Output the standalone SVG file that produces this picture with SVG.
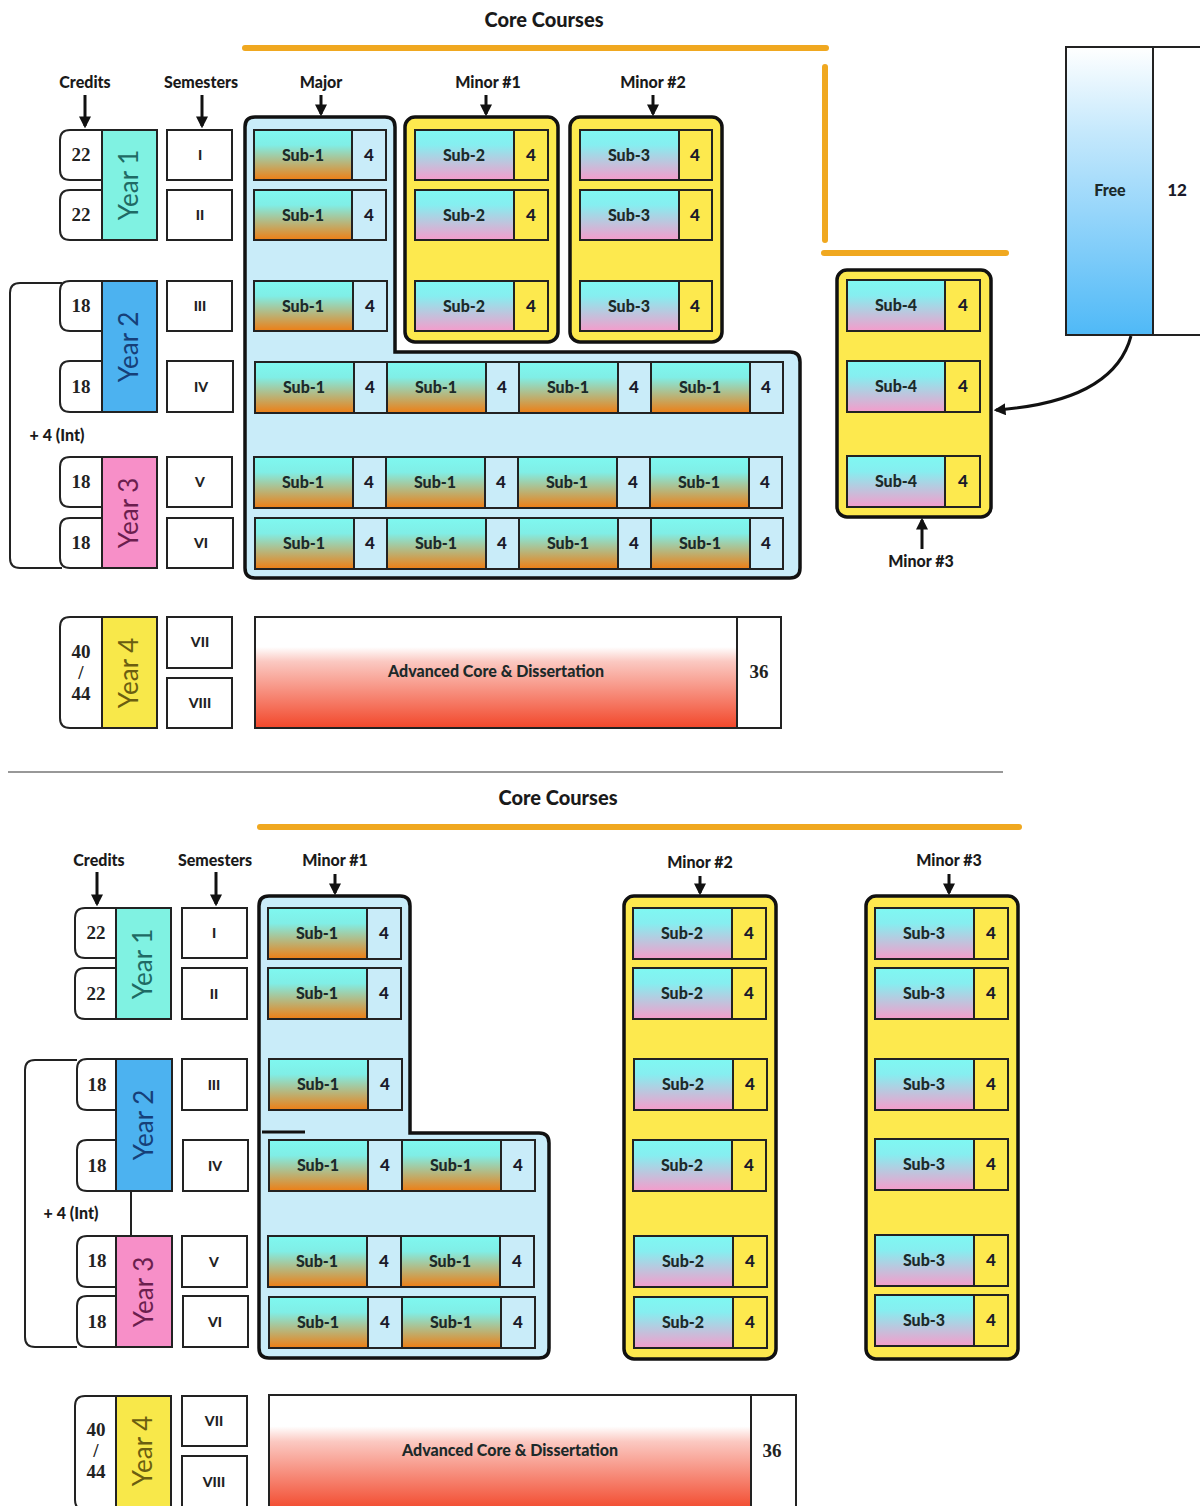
<svg xmlns="http://www.w3.org/2000/svg" width="1200" height="1506" viewBox="0 0 1200 1506">
<defs>
<linearGradient id="gS1" x1="0" y1="0" x2="0" y2="1"><stop offset="0" stop-color="#7ff8f0"/><stop offset="0.3" stop-color="#80eee6"/><stop offset="1" stop-color="#ee7e14"/></linearGradient>
<linearGradient id="gS2" x1="0" y1="0" x2="0" y2="1"><stop offset="0" stop-color="#7ff8f2"/><stop offset="0.3" stop-color="#86eef0"/><stop offset="1" stop-color="#f59ccb"/></linearGradient>
<linearGradient id="gFree" x1="0" y1="0" x2="0" y2="1"><stop offset="0" stop-color="#ffffff"/><stop offset="0.3" stop-color="#c4e8fc"/><stop offset="1" stop-color="#4fb9f7"/></linearGradient>
<linearGradient id="gAdv" x1="0" y1="0" x2="0" y2="1"><stop offset="0" stop-color="#ffffff"/><stop offset="0.27" stop-color="#ffffff"/><stop offset="0.4" stop-color="#fbc9c2"/><stop offset="1" stop-color="#f2472a"/></linearGradient>
<marker id="ah" viewBox="0 0 10 10" refX="8" refY="5" markerWidth="4" markerHeight="4" orient="auto-start-reverse"><path d="M0,0 L10,5 L0,10 Z" fill="#111"/></marker>
</defs>
<style>
.lbl{font-family:Lato,"Liberation Sans",sans-serif;font-weight:900;font-size:16px;fill:#1a1a1a;text-anchor:middle}
.ttl{font-family:Lato,"Liberation Sans",sans-serif;font-weight:900;font-size:20px;fill:#1a1a1a;text-anchor:middle}
.num{font-family:"Liberation Serif",serif;font-weight:bold;font-size:19px;fill:#222;text-anchor:middle}
.sem{font-family:Lato,"Liberation Sans",sans-serif;font-weight:900;font-size:14px;fill:#222;text-anchor:middle}
.sub{font-family:Lato,"Liberation Sans",sans-serif;font-weight:900;font-size:16px;fill:#1c2a2a;text-anchor:middle}
.cr{font-family:Lato,"Liberation Sans",sans-serif;font-weight:900;font-size:17px;fill:#1a1a2a;text-anchor:middle}
.yr{font-family:Lato,"Liberation Sans",sans-serif;font-size:26px;text-anchor:middle}
.box{stroke:#222;stroke-width:2}
.s1{fill:url(#gS1)}
.s2{fill:url(#gS2)}
.nb{fill:#c9ecf9}
.ny{fill:#fde94e}
.cont{stroke:#111;stroke-width:3.5}
.blue{fill:#c9ecf9}
.yel{fill:#fde94e}
.w{fill:#fff}
.orange{stroke:#f0a820;stroke-width:6;stroke-linecap:round;fill:none}
.arr{stroke:#111;stroke-width:3;fill:none;marker-end:url(#ah)}
.thin{stroke:#222;stroke-width:2;fill:none}
</style>
<rect width="1200" height="1506" fill="#ffffff"/>

<!-- ================= TOP SECTION ================= -->
<g id="top-title">
<text class="ttl" x="544" y="27">Core Courses</text>
<line class="orange" x1="245" y1="48" x2="826" y2="48"/>
<line class="orange" x1="825" y1="67" x2="825" y2="240"/>
<line class="orange" x1="824" y1="253" x2="1006" y2="253"/>
</g>
<g id="top-labels">
<text class="lbl" x="85" y="88">Credits</text>
<text class="lbl" x="201" y="88">Semesters</text>
<text class="lbl" x="321" y="88">Major</text>
<text class="lbl" x="488" y="88">Minor #1</text>
<text class="lbl" x="653" y="88">Minor #2</text>
<text class="lbl" x="921" y="567">Minor #3</text>
</g>

<g id="top-credits">
<path class="box w" d="M103,130 H70 Q60,130 60,140 V170 Q60,180 70,180 H103"/>
<text class="num" x="81" y="161">22</text>
<path class="box w" d="M103,190 H70 Q60,190 60,200 V230 Q60,240 70,240 H103"/>
<text class="num" x="81" y="221">22</text>
<path class="box w" d="M103,281 H70 Q60,281 60,291 V321 Q60,331 70,331 H103"/>
<text class="num" x="81" y="312">18</text>
<path class="box w" d="M103,361 H70 Q60,361 60,371 V402 Q60,412 70,412 H103"/>
<text class="num" x="81" y="393">18</text>
<path class="box w" d="M103,457 H70 Q60,457 60,467 V497 Q60,507 70,507 H103"/>
<text class="num" x="81" y="488">18</text>
<path class="box w" d="M103,518 H70 Q60,518 60,528 V558 Q60,568 70,568 H103"/>
<text class="num" x="81" y="549">18</text>
<path class="box w" d="M103,617 H70 Q60,617 60,627 V718 Q60,728 70,728 H103"/>
<text class="num" x="81" y="658">40</text>
<text class="num" x="81" y="679">/</text>
<text class="num" x="81" y="700">44</text>
</g>
<g id="top-bracket">
<path class="thin" d="M62,283 H20 Q10,283 10,293 V558 Q10,568 20,568 H62"/>
<text class="lbl" x="57" y="441">+ 4 (Int)</text>
</g>
<g id="top-years">
<rect class="box" x="102" y="130" width="55" height="110" fill="#80f2e2"/>
<text class="yr" transform="translate(138,185) rotate(-90)" fill="#1f6a64">Year 1</text>
<rect class="box" x="102" y="281" width="55" height="131" fill="#4cb2f0"/>
<text class="yr" transform="translate(138,347) rotate(-90)" fill="#163f78">Year 2</text>
<rect class="box" x="102" y="457" width="55" height="111" fill="#f78fc8"/>
<text class="yr" transform="translate(138,513) rotate(-90)" fill="#6b1e4e">Year 3</text>
<rect class="box" x="102" y="617" width="55" height="111" fill="#f8e84a"/>
<text class="yr" transform="translate(138,673) rotate(-90)" fill="#6b5e10">Year 4</text>
</g>
<g id="top-semesters">
<rect class="box w" x="167" y="130" width="65" height="50"/><text class="sem" x="200" y="160">I</text>
<rect class="box w" x="167" y="190" width="65" height="50"/><text class="sem" x="200" y="220">II</text>
<rect class="box w" x="167" y="281" width="65" height="50"/><text class="sem" x="200" y="311">III</text>
<rect class="box w" x="167" y="361" width="66" height="51"/><text class="sem" x="201" y="392">IV</text>
<rect class="box w" x="167" y="457" width="65" height="50"/><text class="sem" x="200" y="487">V</text>
<rect class="box w" x="167" y="518" width="66" height="50"/><text class="sem" x="201" y="548">VI</text>
<rect class="box w" x="167" y="617" width="65" height="51"/><text class="sem" x="200" y="647">VII</text>
<rect class="box w" x="167" y="678" width="65" height="50"/><text class="sem" x="200" y="708">VIII</text>
</g>

<g id="top-major">
<path class="cont blue" d="M255,117 H385 Q395,117 395,127 V352 H790 Q800,352 800,362 V568 Q800,578 790,578 H255 Q245,578 245,568 V127 Q245,117 255,117 Z"/>
<rect class="box s1" x="254" y="130" width="98" height="50"/><rect class="box nb" x="352" y="130" width="34" height="50"/>
<text class="sub" x="303" y="161">Sub-1</text><text class="cr" x="369" y="161">4</text>
<rect class="box s1" x="254" y="190" width="98" height="50"/><rect class="box nb" x="352" y="190" width="34" height="50"/>
<text class="sub" x="303" y="221">Sub-1</text><text class="cr" x="369" y="221">4</text>
<rect class="box s1" x="254" y="281" width="99" height="50"/><rect class="box nb" x="353" y="281" width="34" height="50"/>
<text class="sub" x="303" y="312">Sub-1</text><text class="cr" x="370" y="312">4</text>
<rect class="box s1" x="255" y="362" width="99" height="51"/><rect class="box nb" x="354" y="362" width="33" height="51"/>
<rect class="box s1" x="387" y="362" width="99" height="51"/><rect class="box nb" x="486" y="362" width="33" height="51"/>
<rect class="box s1" x="519" y="362" width="99" height="51"/><rect class="box nb" x="618" y="362" width="33" height="51"/>
<rect class="box s1" x="651" y="362" width="99" height="51"/><rect class="box nb" x="750" y="362" width="33" height="51"/>
<text class="sub" x="304" y="393">Sub-1</text><text class="cr" x="370" y="393">4</text>
<text class="sub" x="436" y="393">Sub-1</text><text class="cr" x="502" y="393">4</text>
<text class="sub" x="568" y="393">Sub-1</text><text class="cr" x="634" y="393">4</text>
<text class="sub" x="700" y="393">Sub-1</text><text class="cr" x="766" y="393">4</text>
<rect class="box s1" x="254" y="457" width="99" height="51"/><rect class="box nb" x="353" y="457" width="33" height="51"/>
<rect class="box s1" x="386" y="457" width="99" height="51"/><rect class="box nb" x="485" y="457" width="33" height="51"/>
<rect class="box s1" x="518" y="457" width="99" height="51"/><rect class="box nb" x="617" y="457" width="33" height="51"/>
<rect class="box s1" x="650" y="457" width="99" height="51"/><rect class="box nb" x="749" y="457" width="33" height="51"/>
<text class="sub" x="303" y="488">Sub-1</text><text class="cr" x="369" y="488">4</text>
<text class="sub" x="435" y="488">Sub-1</text><text class="cr" x="501" y="488">4</text>
<text class="sub" x="567" y="488">Sub-1</text><text class="cr" x="633" y="488">4</text>
<text class="sub" x="699" y="488">Sub-1</text><text class="cr" x="765" y="488">4</text>
<rect class="box s1" x="255" y="518" width="99" height="51"/><rect class="box nb" x="354" y="518" width="33" height="51"/>
<rect class="box s1" x="387" y="518" width="99" height="51"/><rect class="box nb" x="486" y="518" width="33" height="51"/>
<rect class="box s1" x="519" y="518" width="99" height="51"/><rect class="box nb" x="618" y="518" width="33" height="51"/>
<rect class="box s1" x="651" y="518" width="99" height="51"/><rect class="box nb" x="750" y="518" width="33" height="51"/>
<text class="sub" x="304" y="549">Sub-1</text><text class="cr" x="370" y="549">4</text>
<text class="sub" x="436" y="549">Sub-1</text><text class="cr" x="502" y="549">4</text>
<text class="sub" x="568" y="549">Sub-1</text><text class="cr" x="634" y="549">4</text>
<text class="sub" x="700" y="549">Sub-1</text><text class="cr" x="766" y="549">4</text>
</g>

<g id="top-minor1">
<rect class="cont yel" x="405" y="117" width="153" height="225" rx="10"/>
<rect class="box s2" x="415" y="130" width="99" height="50"/><rect class="box ny" x="514" y="130" width="34" height="50"/>
<text class="sub" x="464" y="161">Sub-2</text><text class="cr" x="531" y="161">4</text>
<rect class="box s2" x="415" y="190" width="99" height="50"/><rect class="box ny" x="514" y="190" width="34" height="50"/>
<text class="sub" x="464" y="221">Sub-2</text><text class="cr" x="531" y="221">4</text>
<rect class="box s2" x="415" y="281" width="99" height="50"/><rect class="box ny" x="514" y="281" width="34" height="50"/>
<text class="sub" x="464" y="312">Sub-2</text><text class="cr" x="531" y="312">4</text>
</g>
<g id="top-minor2">
<rect class="cont yel" x="570" y="117" width="152" height="225" rx="10"/>
<rect class="box s2" x="580" y="130" width="99" height="50"/><rect class="box ny" x="679" y="130" width="33" height="50"/>
<text class="sub" x="629" y="161">Sub-3</text><text class="cr" x="695" y="161">4</text>
<rect class="box s2" x="580" y="190" width="99" height="50"/><rect class="box ny" x="679" y="190" width="33" height="50"/>
<text class="sub" x="629" y="221">Sub-3</text><text class="cr" x="695" y="221">4</text>
<rect class="box s2" x="580" y="281" width="99" height="50"/><rect class="box ny" x="679" y="281" width="33" height="50"/>
<text class="sub" x="629" y="312">Sub-3</text><text class="cr" x="695" y="312">4</text>
</g>
<g id="top-minor3">
<rect class="cont yel" x="837" y="270" width="154" height="247" rx="10"/>
<rect class="box s2" x="847" y="280" width="98" height="51"/><rect class="box ny" x="945" y="280" width="35" height="51"/>
<text class="sub" x="896" y="311">Sub-4</text><text class="cr" x="963" y="311">4</text>
<rect class="box s2" x="847" y="361" width="98" height="51"/><rect class="box ny" x="945" y="361" width="35" height="51"/>
<text class="sub" x="896" y="392">Sub-4</text><text class="cr" x="963" y="392">4</text>
<rect class="box s2" x="847" y="456" width="98" height="51"/><rect class="box ny" x="945" y="456" width="35" height="51"/>
<text class="sub" x="896" y="487">Sub-4</text><text class="cr" x="963" y="487">4</text>
</g>
<g id="top-free">
<rect class="box" x="1066" y="47" width="87" height="288" fill="url(#gFree)"/>
<rect class="box w" x="1153" y="47" width="48" height="288"/>
<text class="sub" x="1110" y="196">Free</text>
<text class="cr" x="1177" y="196">12</text>
</g>
<g id="top-advanced">
<rect class="box" x="255" y="617" width="482" height="111" fill="url(#gAdv)"/>
<rect class="box w" x="737" y="617" width="44" height="111"/>
<text class="sub" x="496" y="677">Advanced Core &amp; Dissertation</text>
<text class="num" x="759" y="678">36</text>
</g>

<g id="top-connectors">
<line class="arr" x1="85" y1="95" x2="85" y2="126"/>
<line class="arr" x1="202" y1="95" x2="202" y2="126"/>
<line class="arr" x1="321" y1="95" x2="321" y2="114"/>
<line class="arr" x1="486" y1="95" x2="486" y2="114"/>
<line class="arr" x1="653" y1="95" x2="653" y2="114"/>
<line class="arr" x1="922" y1="549" x2="922" y2="520"/>
<path class="arr" d="M1131,336 C1118,385 1065,405 996,410"/>
</g>

<line id="divider" x1="8" y1="772" x2="1003" y2="772" stroke="#333" stroke-width="1.2"/>

<!-- ================= BOTTOM SECTION ================= -->
<g id="bot-title">
<text class="ttl" x="558" y="805">Core Courses</text>
<line class="orange" x1="260" y1="827" x2="1019" y2="827"/>
</g>
<g id="bot-labels">
<text class="lbl" x="99" y="866">Credits</text>
<text class="lbl" x="215" y="866">Semesters</text>
<text class="lbl" x="335" y="866">Minor #1</text>
<text class="lbl" x="700" y="868">Minor #2</text>
<text class="lbl" x="949" y="866">Minor #3</text>
</g>
<g id="bot-credits">
<path class="box w" d="M117,908 H85 Q75,908 75,918 V948 Q75,958 85,958 H117"/>
<text class="num" x="96" y="939">22</text>
<path class="box w" d="M117,968 H85 Q75,968 75,978 V1009 Q75,1019 85,1019 H117"/>
<text class="num" x="96" y="1000">22</text>
<path class="box w" d="M117,1059 H87 Q77,1059 77,1069 V1100 Q77,1110 87,1110 H117"/>
<text class="num" x="97" y="1091">18</text>
<path class="box w" d="M117,1140 H87 Q77,1140 77,1150 V1181 Q77,1191 87,1191 H117"/>
<text class="num" x="97" y="1172">18</text>
<path class="box w" d="M117,1236 H87 Q77,1236 77,1246 V1277 Q77,1287 87,1287 H117"/>
<text class="num" x="97" y="1267">18</text>
<path class="box w" d="M117,1296 H87 Q77,1296 77,1306 V1337 Q77,1347 87,1347 H117"/>
<text class="num" x="97" y="1328">18</text>
<path class="box w" d="M117,1396 H85 Q75,1396 75,1406 V1500 Q75,1510 85,1510 H117"/>
<text class="num" x="96" y="1436">40</text>
<text class="num" x="96" y="1457">/</text>
<text class="num" x="96" y="1478">44</text>
</g>
<g id="bot-bracket">
<path class="thin" d="M77,1060 H35 Q25,1060 25,1070 V1337 Q25,1347 35,1347 H77"/>
<line class="thin" x1="131" y1="1191" x2="131" y2="1236"/>
<text class="lbl" x="71" y="1219">+ 4 (Int)</text>
</g>
<g id="bot-years">
<rect class="box" x="116" y="908" width="55" height="111" fill="#80f2e2"/>
<text class="yr" transform="translate(152,964) rotate(-90)" fill="#1f6a64">Year 1</text>
<rect class="box" x="116" y="1059" width="56" height="132" fill="#4cb2f0"/>
<text class="yr" transform="translate(153,1125) rotate(-90)" fill="#163f78">Year 2</text>
<rect class="box" x="116" y="1236" width="56" height="111" fill="#f78fc8"/>
<text class="yr" transform="translate(153,1292) rotate(-90)" fill="#6b1e4e">Year 3</text>
<rect class="box" x="116" y="1396" width="55" height="114" fill="#f8e84a"/>
<text class="yr" transform="translate(152,1451) rotate(-90)" fill="#6b5e10">Year 4</text>
</g>
<g id="bot-semesters">
<rect class="box w" x="182" y="908" width="65" height="50"/><text class="sem" x="214" y="938">I</text>
<rect class="box w" x="182" y="968" width="65" height="51"/><text class="sem" x="214" y="999">II</text>
<rect class="box w" x="182" y="1059" width="65" height="51"/><text class="sem" x="214" y="1090">III</text>
<rect class="box w" x="183" y="1140" width="65" height="51"/><text class="sem" x="215" y="1171">IV</text>
<rect class="box w" x="182" y="1236" width="65" height="51"/><text class="sem" x="214" y="1267">V</text>
<rect class="box w" x="183" y="1296" width="65" height="51"/><text class="sem" x="215" y="1327">VI</text>
<rect class="box w" x="182" y="1396" width="65" height="50"/><text class="sem" x="214" y="1426">VII</text>
<rect class="box w" x="182" y="1456" width="65" height="55"/><text class="sem" x="214" y="1487">VIII</text>
</g>

<g id="bot-minor1">
<path class="cont blue" d="M269,896 H400 Q410,896 410,906 V1133 H539 Q549,1133 549,1143 V1348 Q549,1358 539,1358 H269 Q259,1358 259,1348 V906 Q259,896 269,896 Z"/>
<line x1="262" y1="1132" x2="305" y2="1132" stroke="#111" stroke-width="3"/>
<rect class="box s1" x="268" y="908" width="99" height="51"/><rect class="box nb" x="367" y="908" width="34" height="51"/>
<text class="sub" x="317" y="939">Sub-1</text><text class="cr" x="384" y="939">4</text>
<rect class="box s1" x="268" y="968" width="99" height="51"/><rect class="box nb" x="367" y="968" width="34" height="51"/>
<text class="sub" x="317" y="999">Sub-1</text><text class="cr" x="384" y="999">4</text>
<rect class="box s1" x="269" y="1059" width="99" height="51"/><rect class="box nb" x="368" y="1059" width="34" height="51"/>
<text class="sub" x="318" y="1090">Sub-1</text><text class="cr" x="385" y="1090">4</text>
<rect class="box s1" x="269" y="1140" width="99" height="51"/><rect class="box nb" x="368" y="1140" width="34" height="51"/>
<rect class="box s1" x="402" y="1140" width="99" height="51"/><rect class="box nb" x="501" y="1140" width="34" height="51"/>
<text class="sub" x="318" y="1171">Sub-1</text><text class="cr" x="385" y="1171">4</text>
<text class="sub" x="451" y="1171">Sub-1</text><text class="cr" x="518" y="1171">4</text>
<rect class="box s1" x="268" y="1236" width="99" height="51"/><rect class="box nb" x="367" y="1236" width="34" height="51"/>
<rect class="box s1" x="401" y="1236" width="99" height="51"/><rect class="box nb" x="500" y="1236" width="34" height="51"/>
<text class="sub" x="317" y="1267">Sub-1</text><text class="cr" x="384" y="1267">4</text>
<text class="sub" x="450" y="1267">Sub-1</text><text class="cr" x="517" y="1267">4</text>
<rect class="box s1" x="269" y="1297" width="99" height="51"/><rect class="box nb" x="368" y="1297" width="34" height="51"/>
<rect class="box s1" x="402" y="1297" width="99" height="51"/><rect class="box nb" x="501" y="1297" width="34" height="51"/>
<text class="sub" x="318" y="1328">Sub-1</text><text class="cr" x="385" y="1328">4</text>
<text class="sub" x="451" y="1328">Sub-1</text><text class="cr" x="518" y="1328">4</text>
</g>

<g id="bot-minor2">
<rect class="cont yel" x="624" y="896" width="152" height="463" rx="10"/>
<rect class="box s2" x="633" y="908" width="99" height="51"/><rect class="box ny" x="732" y="908" width="34" height="51"/>
<text class="sub" x="682" y="939">Sub-2</text><text class="cr" x="749" y="939">4</text>
<rect class="box s2" x="633" y="968" width="99" height="51"/><rect class="box ny" x="732" y="968" width="34" height="51"/>
<text class="sub" x="682" y="999">Sub-2</text><text class="cr" x="749" y="999">4</text>
<rect class="box s2" x="634" y="1059" width="99" height="51"/><rect class="box ny" x="733" y="1059" width="34" height="51"/>
<text class="sub" x="683" y="1090">Sub-2</text><text class="cr" x="750" y="1090">4</text>
<rect class="box s2" x="633" y="1140" width="99" height="51"/><rect class="box ny" x="732" y="1140" width="34" height="51"/>
<text class="sub" x="682" y="1171">Sub-2</text><text class="cr" x="749" y="1171">4</text>
<rect class="box s2" x="634" y="1236" width="99" height="51"/><rect class="box ny" x="733" y="1236" width="34" height="51"/>
<text class="sub" x="683" y="1267">Sub-2</text><text class="cr" x="750" y="1267">4</text>
<rect class="box s2" x="634" y="1297" width="99" height="51"/><rect class="box ny" x="733" y="1297" width="34" height="51"/>
<text class="sub" x="683" y="1328">Sub-2</text><text class="cr" x="750" y="1328">4</text>
</g>

<g id="bot-minor3">
<rect class="cont yel" x="866" y="896" width="152" height="463" rx="10"/>
<rect class="box s2" x="875" y="908" width="99" height="51"/><rect class="box ny" x="974" y="908" width="34" height="51"/>
<text class="sub" x="924" y="939">Sub-3</text><text class="cr" x="991" y="939">4</text>
<rect class="box s2" x="875" y="968" width="99" height="51"/><rect class="box ny" x="974" y="968" width="34" height="51"/>
<text class="sub" x="924" y="999">Sub-3</text><text class="cr" x="991" y="999">4</text>
<rect class="box s2" x="875" y="1059" width="99" height="51"/><rect class="box ny" x="974" y="1059" width="34" height="51"/>
<text class="sub" x="924" y="1090">Sub-3</text><text class="cr" x="991" y="1090">4</text>
<rect class="box s2" x="875" y="1139" width="99" height="51"/><rect class="box ny" x="974" y="1139" width="34" height="51"/>
<text class="sub" x="924" y="1170">Sub-3</text><text class="cr" x="991" y="1170">4</text>
<rect class="box s2" x="875" y="1235" width="99" height="51"/><rect class="box ny" x="974" y="1235" width="34" height="51"/>
<text class="sub" x="924" y="1266">Sub-3</text><text class="cr" x="991" y="1266">4</text>
<rect class="box s2" x="875" y="1295" width="99" height="51"/><rect class="box ny" x="974" y="1295" width="34" height="51"/>
<text class="sub" x="924" y="1326">Sub-3</text><text class="cr" x="991" y="1326">4</text>
</g>

<g id="bot-advanced">
<rect class="box" x="269" y="1395" width="482" height="116" fill="url(#gAdv)"/>
<rect class="box w" x="751" y="1395" width="45" height="116"/>
<text class="sub" x="510" y="1456">Advanced Core &amp; Dissertation</text>
<text class="num" x="772" y="1457">36</text>
</g>

<g id="bot-connectors">
<line class="arr" x1="97" y1="872" x2="97" y2="904"/>
<line class="arr" x1="216" y1="872" x2="216" y2="904"/>
<line class="arr" x1="335" y1="874" x2="335" y2="893"/>
<line class="arr" x1="700" y1="876" x2="700" y2="893"/>
<line class="arr" x1="949" y1="874" x2="949" y2="893"/>
</g>
</svg>
